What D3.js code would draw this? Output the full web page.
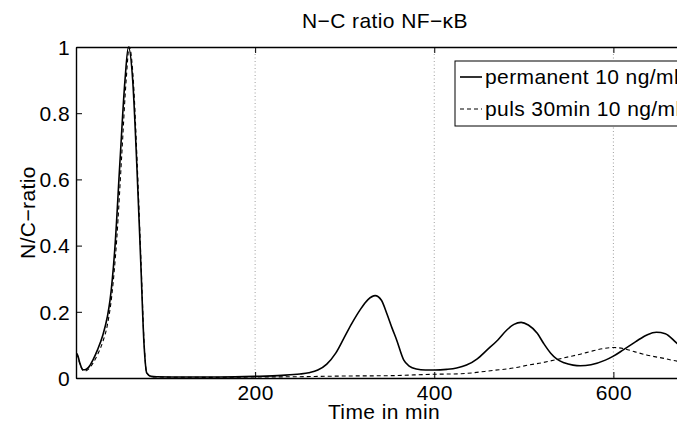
<!DOCTYPE html>
<html>
<head>
<meta charset="utf-8">
<script src="https://cdn.jsdelivr.net/npm/d3@7"></script>
<style>
  html, body { margin: 0; padding: 0; background: #fff; overflow: hidden; }
  svg { display: block; }
  text { font-family: "Liberation Sans", Arial, Helvetica, sans-serif; fill: #000; }
</style>
</head>
<body>
<script>
// ---- data ----
const title = "N\u2212C ratio NF\u2212\u03BAB";
const xLabel = "Time in min";
const yLabel = "N/C\u2212ratio";
const seriesNames = ["permanent 10 ng/ml", "puls 30min 10 ng/ml"];
const xTicks = [200, 400, 600];
const yTicks = [0, 0.2, 0.4, 0.6, 0.8, 1];
const yTickLabels = ["0", "0.2", "0.4", "0.6", "0.8", "1"];

const permanentTime = [0, 2, 4, 6, 8, 10, 14, 19, 24, 30, 35, 38, 43.6, 49, 54.7, 58.5, 63.3, 67.8, 72.3, 76, 79, 84, 90, 120, 160, 200, 230, 250, 260, 270, 280, 290, 300, 308, 317, 326, 334, 341, 347, 353, 358, 366, 372, 380, 390, 400, 414, 425, 436, 448, 459, 471, 481, 489, 497, 505, 515, 522, 530, 537, 545, 555, 563, 575, 591, 600, 611, 625, 638, 648, 658, 671, 690];
const permanentValue = [0.076, 0.068, 0.048, 0.032, 0.025, 0.025, 0.032, 0.055, 0.085, 0.13, 0.185, 0.235, 0.4, 0.65, 0.9, 1.0, 0.9, 0.65, 0.35, 0.1, 0.015, 0.005, 0.004, 0.003, 0.003, 0.005, 0.008, 0.012, 0.016, 0.024, 0.042, 0.075, 0.125, 0.165, 0.205, 0.237, 0.249, 0.235, 0.195, 0.15, 0.115, 0.054, 0.036, 0.027, 0.024, 0.024, 0.026, 0.03, 0.039, 0.058, 0.085, 0.115, 0.145, 0.162, 0.168, 0.16, 0.135, 0.105, 0.075, 0.057, 0.046, 0.039, 0.037, 0.04, 0.054, 0.066, 0.085, 0.11, 0.131, 0.138, 0.134, 0.105, 0.075];

const pulsTime = [0, 2, 4, 6, 8, 10, 14, 19, 24, 30, 35, 40, 45.5, 51, 56, 59.5, 64, 68.3, 72.6, 76.2, 79, 84, 90, 150, 200, 250, 300, 350, 395, 430, 466, 488, 505, 520, 537, 550, 563, 577, 589, 600, 611, 624, 638, 655, 671, 690];
const pulsValue = [0.072, 0.065, 0.045, 0.03, 0.022, 0.021, 0.027, 0.045, 0.07, 0.11, 0.16, 0.25, 0.42, 0.67, 0.9, 1.0, 0.9, 0.65, 0.35, 0.1, 0.015, 0.004, 0.003, 0.002, 0.003, 0.004, 0.006, 0.007, 0.011, 0.013, 0.023, 0.03, 0.039, 0.046, 0.056, 0.064, 0.072, 0.082, 0.089, 0.092, 0.089, 0.079, 0.069, 0.06, 0.051, 0.046];

// ---- layout ----
const W = 677, H = 422;
const mLeft = 76, mTop = 47, mBottom = 378, mRight = 694;
const fontSize = 21;
const letterSp = "0.4px";

const svg = d3.select("body").append("svg").attr("width", W).attr("height", H);

const x = d3.scaleLinear().domain([0, 690]).range([mLeft, mRight]);
const y = d3.scaleLinear().domain([0, 1]).range([mBottom, mTop]);

// grid (x only, dotted)
svg.append("g").selectAll("line").data(xTicks).join("line")
  .attr("x1", d => x(d)).attr("x2", d => x(d))
  .attr("y1", mTop).attr("y2", mBottom)
  .attr("stroke", "#888").attr("stroke-width", 0.8)
  .attr("stroke-dasharray", "1,2.5");

// clip
svg.append("clipPath").attr("id", "plotclip").append("rect")
  .attr("x", mLeft).attr("y", mTop - 2).attr("width", mRight - mLeft).attr("height", mBottom - mTop + 2);

const line = d3.line().x(d => x(d[0])).y(d => y(d[1])).curve(d3.curveMonotoneX);

const permData = permanentTime.map((t, i) => [t, permanentValue[i]]);
const pulsData = pulsTime.map((t, i) => [t, pulsValue[i]]);

const plot = svg.append("g").attr("clip-path", "url(#plotclip)");
plot.append("path").datum(pulsData).attr("d", line)
  .attr("fill", "none").attr("stroke", "#000").attr("stroke-width", 1.1)
  .attr("stroke-dasharray", "4,3");
plot.append("path").datum(permData).attr("d", line)
  .attr("fill", "none").attr("stroke", "#000").attr("stroke-width", 1.6);

// axes (MATLAB style: inward ticks, box)
const tickLen = 6;
const xAxisB = d3.axisBottom(x).tickValues(xTicks).tickSizeInner(-tickLen).tickSizeOuter(0).tickPadding(12);
const gx = svg.append("g").attr("transform", `translate(0,${mBottom})`).call(xAxisB);
const xAxisT = d3.axisTop(x).tickValues(xTicks).tickSizeInner(-tickLen).tickSizeOuter(0).tickFormat("");
const gxt = svg.append("g").attr("transform", `translate(0,${mTop})`).call(xAxisT);
const yAxisL = d3.axisLeft(y).tickValues(yTicks).tickSizeInner(-tickLen).tickSizeOuter(0)
  .tickFormat((d, i) => yTickLabels[i]).tickPadding(12);
const gy = svg.append("g").attr("transform", `translate(${mLeft},0)`).call(yAxisL);
const yAxisR = d3.axisRight(y).tickValues(yTicks).tickSizeInner(-tickLen).tickSizeOuter(0).tickFormat("");
const gyr = svg.append("g").attr("transform", `translate(${mRight},0)`).call(yAxisR);

[gx, gxt, gy, gyr].forEach(g => {
  g.select(".domain").attr("stroke", "#000").attr("stroke-width", 1.4);
  g.selectAll(".tick line").attr("stroke", "#000").attr("stroke-width", 1);
  g.selectAll("text").attr("font-size", fontSize).attr("font-family", null).attr("letter-spacing", letterSp);
});
gx.selectAll(".tick text").attr("dy", null).attr("y", 22);
gy.selectAll(".tick text").attr("x", -6).attr("dy", "0.35em");

// title and labels
svg.append("text").attr("x", 385).attr("y", 27.5).attr("text-anchor", "middle")
  .attr("font-size", fontSize).attr("letter-spacing", letterSp).text(title);
svg.append("text").attr("x", 384).attr("y", 419).attr("text-anchor", "middle")
  .attr("font-size", fontSize).attr("letter-spacing", letterSp).text(xLabel);
svg.append("text").attr("transform", `translate(35,212.5) rotate(-90)`).attr("text-anchor", "middle")
  .attr("font-size", fontSize).attr("letter-spacing", letterSp).text(yLabel);

// legend
const lg = svg.append("g");
lg.append("rect").attr("x", 455).attr("y", 61).attr("width", 260).attr("height", 65)
  .attr("fill", "#fff").attr("stroke", "#000").attr("stroke-width", 1);
const legendRows = [
  { name: seriesNames[0], dash: null, w: 1.6, yy: 77 },
  { name: seriesNames[1], dash: "4,3", w: 1.1, yy: 109 }
];
legendRows.forEach(r => {
  lg.append("line").attr("x1", 460).attr("x2", 482).attr("y1", r.yy).attr("y2", r.yy)
    .attr("stroke", "#000").attr("stroke-width", r.w).attr("stroke-dasharray", r.dash);
  lg.append("text").attr("x", 485).attr("y", r.yy + 7).attr("font-size", fontSize)
    .attr("letter-spacing", letterSp).text(r.name);
});
</script>
</body>
</html>
